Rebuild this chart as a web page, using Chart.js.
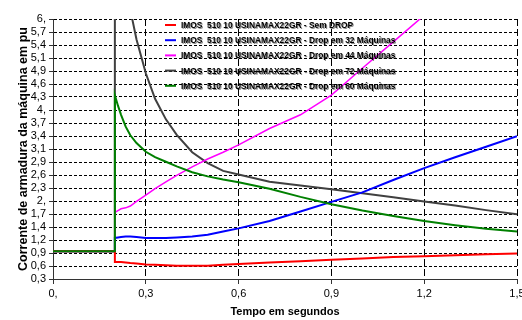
<!DOCTYPE html>
<html>
<head>
<meta charset="utf-8">
<script src="https://cdn.jsdelivr.net/npm/chart.js@4.4.0/dist/chart.umd.min.js"></script>
<style>
  html, body { margin: 0; padding: 0; background: #fff; overflow: hidden; }
</style>
</head>
<body>
<canvas id="grafico" width="522" height="320"></canvas>
<script>
// Corrente de armadura x tempo - curvas

const tempo = [0, 0.2, 0.2, 0.21, 0.22, 0.235, 0.25, 0.27, 0.3, 0.33, 0.365, 0.4, 0.45, 0.5, 0.55, 0.6, 0.7, 0.8, 0.9, 1.0, 1.1, 1.2, 1.3, 1.4, 1.5];

const semDrop  = [0.91, 0.91, 0.67, 0.67, 0.67, 0.66, 0.65, 0.64, 0.62, 0.61, 0.60, 0.59, 0.59, 0.59, 0.61, 0.63, 0.66, 0.69, 0.72, 0.75, 0.78, 0.80, 0.82, 0.84, 0.86];
const drop32   = [0.91, 0.91, 1.20, 1.21, 1.22, 1.23, 1.23, 1.22, 1.20, 1.20, 1.20, 1.21, 1.23, 1.27, 1.34, 1.41, 1.57, 1.78, 1.99, 2.20, 2.47, 2.73, 2.97, 3.20, 3.43];
const drop44   = [0.91, 0.91, 1.76, 1.80, 1.84, 1.86, 1.90, 2.00, 2.14, 2.28, 2.43, 2.57, 2.76, 2.93, 3.08, 3.24, 3.60, 3.90, 4.33, 4.92, 5.50, 6.08, 6.80, 7.60, 8.50];
const drop72   = [0.91, 0.91, 9.50, 8.40, 7.60, 6.80, 6.20, 5.55, 4.81, 4.25, 3.80, 3.46, 3.08, 2.84, 2.67, 2.59, 2.43, 2.35, 2.27, 2.18, 2.09, 2.00, 1.91, 1.81, 1.72];
const drop60   = [0.91, 0.91, 4.33, 4.10, 3.90, 3.64, 3.45, 3.28, 3.09, 2.97, 2.87, 2.77, 2.64, 2.55, 2.48, 2.42, 2.28, 2.10, 1.94, 1.80, 1.68, 1.57, 1.48, 1.40, 1.34];

const nomes = [
  'IMOS  510 10 USINAMAX22GR - Sem DROP',
  'IMOS  510 10 USINAMAX22GR - Drop em 32 Máquinas',
  'IMOS  510 10 USINAMAX22GR - Drop em 44 Máquinas',
  'IMOS  510 10 USINAMAX22GR - Drop em 72 Máquinas',
  'IMOS  510 10 USINAMAX22GR - Drop em 60 Máquinas'
];

const xTicks = [0, 0.3, 0.6, 0.9, 1.2, 1.5];
const xTickLabels = ['0,', '0,3', '0,6', '0,9', '1,2', '1,5'];
const yTickLabels = ['0,3', '0,6', '0,9', '1,2', '1,4', '1,7', '2,', '2,3', '2,6', '2,9', '3,1',
                     '3,4', '3,7', '4,', '4,3', '4,6', '4,9', '5,1', '5,4', '5,7', '6,'];
const yTicks = yTickLabels.map((_, i) => 0.3 + i * 0.285);

const FONTE = '"Liberation Sans", Arial, sans-serif';

function pontos(valores) {
  return valores.map((v, i) => ({ x: tempo[i], y: v }));
}

// legenda desenhada dentro da area do grafico, como no original
const legendaInterna = {
  id: 'legendaInterna',
  afterDatasetsDraw(chart) {
    const ctx = chart.ctx;
    ctx.save();
    chart.data.datasets.forEach((ds, i) => {
      const y = 25 + i * 15.2;
      ctx.strokeStyle = ds.borderColor;
      ctx.lineWidth = 2;
      ctx.beginPath();
      ctx.moveTo(165, y);
      ctx.lineTo(176, y);
      ctx.stroke();
      ctx.save();
      ctx.translate(181, y);
      ctx.scale(0.93, 1);
      ctx.font = 'bold 9px ' + FONTE;
      ctx.fillStyle = '#000';
      ctx.textBaseline = 'middle';
      ctx.shadowColor = 'rgba(0,0,0,0.45)';
      ctx.shadowOffsetX = 1;
      ctx.shadowOffsetY = 1;
      ctx.fillText(ds.label, 0, 0.5);
      ctx.restore();
    });
    ctx.restore();
  }
};

const cores = ['#ff0000', '#0000ff', '#ff00ff', '#404040', '#008000'];
const series = [semDrop, drop32, drop44, drop72, drop60];

const ctx = document.getElementById('grafico').getContext('2d');
new Chart(ctx, {
  type: 'line',
  data: {
    datasets: series.map((s, i) => ({
      label: nomes[i],
      data: pontos(s),
      borderColor: cores[i],
      borderWidth: i === 2 ? 1.5 : 2,
      pointRadius: 0,
      tension: 0,
      fill: false,
      order: i === 4 ? 0 : 1
    }))
  },
  options: {
    responsive: false,
    animation: false,
    layout: { padding: { left: 16, top: 19, right: 5, bottom: 0 } },
    plugins: {
      legend: { display: false },
      tooltip: { enabled: false }
    },
    scales: {
      x: {
        type: 'linear',
        min: 0,
        max: 1.5,
        afterBuildTicks: s => { s.ticks = xTicks.map(v => ({ value: v })); },
        afterFit: s => { s.height = 41; s.paddingLeft = 0; s.paddingRight = 0; },
        ticks: {
          autoSkip: false,
          maxRotation: 0,
          padding: 3,
          color: '#000',
          font: { family: FONTE, size: 11 },
          callback: (v, i) => xTickLabels[i]
        },
        grid: { color: '#000', lineWidth: 1, tickLength: 5, tickColor: '#333' },
        border: { display: true, color: '#333', width: 1, dash: [7, 3] },
        title: {
          display: true,
          text: 'Tempo em segundos',
          color: '#000',
          font: { family: FONTE, size: 11, weight: 'bold' },
          padding: { top: 0, bottom: 1 }
        }
      },
      y: {
        type: 'linear',
        min: 0.3,
        max: 6,
        afterBuildTicks: s => { s.ticks = yTicks.map(v => ({ value: v })); },
        afterFit: s => { s.width = 37; s.paddingTop = 0; s.paddingBottom = 0; },
        ticks: {
          autoSkip: false,
          padding: 3,
          color: '#000',
          font: { family: FONTE, size: 11 },
          callback: (v, i) => yTickLabels[i]
        },
        grid: { color: '#000', lineWidth: 1, tickLength: 4, tickColor: '#333' },
        border: { display: true, color: '#333', width: 1, dash: [3, 2] },
        title: {
          display: true,
          text: 'Corrente de armadura da máquina em pu',
          color: '#000',
          font: { family: FONTE, size: 12.5, weight: 'bold' },
          padding: 0
        }
      }
    }
  },
  plugins: [legendaInterna]
});
</script>
</body>
</html>
